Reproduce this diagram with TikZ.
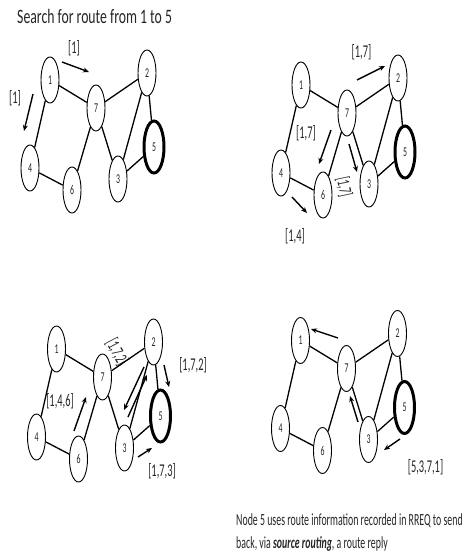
\documentclass[tikz,border=0pt]{standalone}
\usepackage{fontspec}
\setmainfont{Carlito}
\newfontfamily\cf{Carlito}[FakeStretch=0.58]
\newfontfamily\cft{Carlito}[FakeStretch=0.67]
\usetikzlibrary{shapes.geometric,arrows.meta}
\definecolor{ink}{HTML}{262626}
\tikzset{
  nd/.style={ellipse, draw=black, fill=white, line width=0.9pt, minimum width=18pt,
    minimum height=46pt, inner sep=0pt, text=ink, font=\cf\fontsize{13.5}{13.5}\selectfont},
  dst/.style={nd, line width=3pt, minimum width=20pt, minimum height=52pt},
  ed/.style={line width=1.3pt, black},
  ar/.style={line width=1.4pt, black, -{Stealth[length=6pt,width=5pt]}},
  lab/.style={inner sep=0pt, text=ink, font=\cf\fontsize{18}{18}\selectfont},
  ttl/.style={inner sep=0pt, text=ink, font=\cft\fontsize{20.5}{20.5}\selectfont},
  body/.style={inner sep=0pt, text=ink, font=\cf\fontsize{17}{17}\selectfont},
}
\newcommand\mynet[1]{%
  \node[nd]  (#1n1) at (50,80)  {1};
  \node[nd]  (#1n7) at (96,108) {7};
  \node[nd]  (#1n2) at (147,73) {2};
  \node[dst] (#1n5) at (154,147) {5};
  \node[nd]  (#1n3) at (118,179) {3};
  \node[nd]  (#1n4) at (30,168) {4};
  \node[nd]  (#1n6) at (72,190) {6};
  \draw[ed] (#1n1) -- (#1n7);
  \draw[ed] (#1n7) -- (#1n2);
  \draw[ed] (#1n2) -- (#1n5);
  \draw[ed] (#1n2) -- (#1n3);
  \draw[ed] (#1n7) -- (#1n3);
  \draw[ed] (#1n7) -- (#1n6);
  \draw[ed] (#1n1) -- (#1n4);
  \draw[ed] (#1n4) -- (#1n6);
  \draw[ed] (#1n3) -- (#1n5);
}
\begin{document}
\begin{tikzpicture}[x=1pt,y=-1pt]
\useasboundingbox (0,0) rectangle (466,560);
% ---------- panel 1
\node[ttl, anchor=west] (title) at (17,16) {Search for route from 1 to 5};
\node[lab] (l1a) at (74,48) {[1]};
\node[lab] (l1b) at (15,98) {[1]};
\coordinate (a1s) at (62,62);  \coordinate (a1e) at (89,72);
\coordinate (a2s) at (33,94);  \coordinate (a2e) at (24,131);
\draw[ar] (a1s) -- (a1e);
\draw[ar] (a2s) -- (a2e);
\begin{scope}[shift={(0,0)}]\mynet{p}\end{scope}
% ---------- panel 2
\node[lab] (l2a) at (361.5,52) {[1,7]};
\node[lab] (l2b) at (306,133) {[1,7]};
\node[lab, rotate=-78] (l2c) at (344,187) {[1,7]};
\node[lab] (l2d) at (295,236) {[1,4]};
\coordinate (b1s) at (357,80);  \coordinate (b1e) at (385,66);
\coordinate (b2s) at (331,130); \coordinate (b2e) at (319,164);
\coordinate (b3s) at (349,144); \coordinate (b3e) at (357,172);
\coordinate (b4s) at (292,197); \coordinate (b4e) at (307,213);
\draw[ar] (b1s) -- (b1e);
\draw[ar] (b2s) -- (b2e);
\draw[ar] (b3s) -- (b3e);
\draw[ar] (b4s) -- (b4e);
\begin{scope}[shift={(251,5)}]\mynet{q}\end{scope}
% ---------- panel 3
\node[lab] (l3a) at (60,401) {[1,4,6]};
\node[lab, rotate=-62] (l3b) at (117,352) {[1,7,2]};
\node[lab] (l3c) at (193,365) {[1,7,2]};
\node[lab] (l3d) at (162,471) {[1,7,3]};
\coordinate (c1s) at (74,431);  \coordinate (c1e) at (86,397);
\coordinate (c2s) at (144,367); \coordinate (c2e) at (124,410);
\coordinate (c3s) at (128,417); \coordinate (c3e) at (147,375);
\coordinate (c4s) at (164,365); \coordinate (c4e) at (169,387);
\coordinate (c5s) at (138,457); \coordinate (c5e) at (152,448);
\begin{scope}[shift={(6.5,269)}]\mynet{r}\end{scope}
\draw[ar] (c1s) -- (c1e);
\draw[ar] (c2s) -- (c2e);
\draw[ar] (c3s) -- (c3e);
\draw[ar] (c4s) -- (c4e);
\draw[ar] (c5s) -- (c5e);
% ---------- panel 4
\node[lab] (l4a) at (425.5,467.5) {[5,3,7,1]};
\coordinate (d1s) at (338,338); \coordinate (d1e) at (311,329);
\coordinate (d2s) at (358,422); \coordinate (d2e) at (350,396);
\coordinate (d3s) at (400,439); \coordinate (d3e) at (384,450);
\begin{scope}[shift={(250.5,260.5)}]\mynet{s}\end{scope}
\draw[ar] (d1s) -- (d1e);
\draw[ar] (d2s) -- (d2e);
\draw[ar] (d3s) -- (d3e);
% ---------- caption
\node[body, anchor=base west] (cap1) at (236,525) {Node 5 uses route information recorded in RREQ to send};
\node[body, anchor=base west] (cap2) at (236,548) {back, via \textbf{\textit{source routing}}, a route reply};
\end{tikzpicture}
\end{document}
